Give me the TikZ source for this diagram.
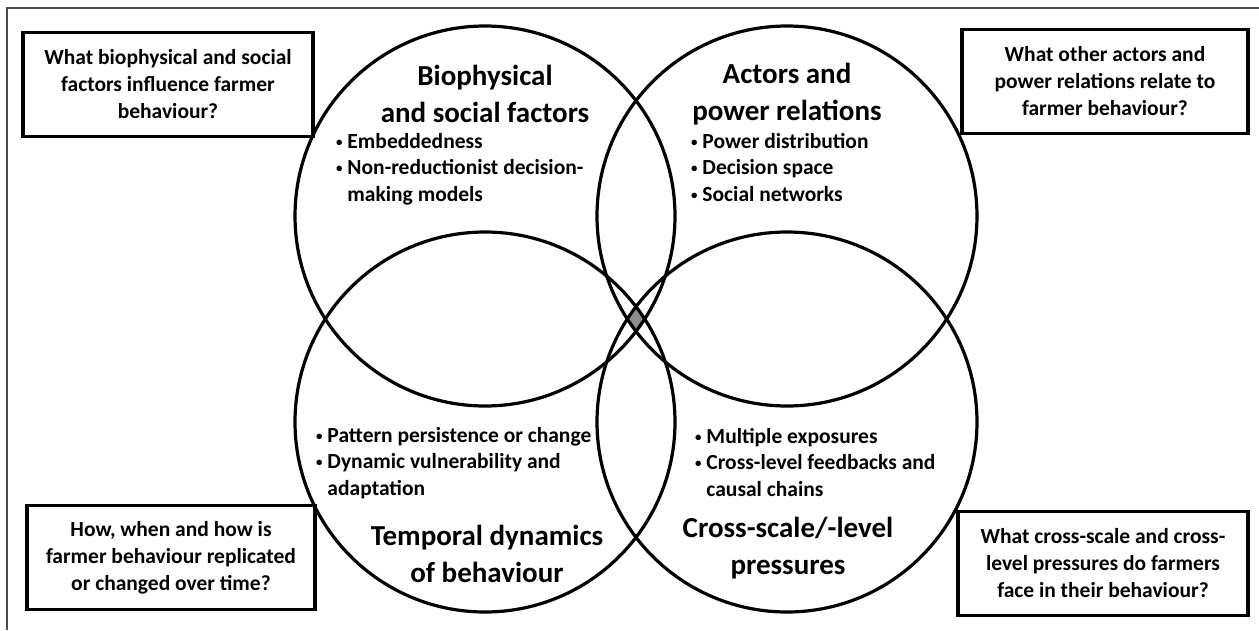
\documentclass[tikz,border=0pt]{standalone}
\usepackage{fontspec}
\setmainfont{Carlito}
\newcommand{\bul}{\raisebox{0.2ex}{\scalebox{0.6}{\textbullet}}\ }
\tikzset{
  ring/.style={line width=3.2pt},
  question/.style={draw, line width=3.4pt, minimum width=#1, minimum height=104pt, inner sep=0pt, align=center, font=\fontsize{21.5}{27}\selectfont\bfseries},
  heading/.style={align=center, inner sep=0pt, font=\fontsize{29}{37}\selectfont\bfseries},
  items/.style={align=left, anchor=north west, inner sep=0pt, font=\fontsize{21.5}{26.5}\selectfont\bfseries}
}
\begin{document}
\begin{tikzpicture}[x=1pt, y=-1pt]
  \useasboundingbox (0,0) rectangle (1259,630);
  % frame
  \draw[line width=1.2pt, black!70] (7,630) -- (7,8) -- (1259,8);
  % circle centres
  \coordinate (bio) at (485,216);
  \coordinate (act) at (787,216);
  \coordinate (tmp) at (485,422);
  \coordinate (crs) at (787,422);
  % shared core
  \begin{scope}
    \clip (bio) circle (190); \clip (act) circle (190); \clip (tmp) circle (190);
    \fill[black!45] (crs) circle (190);
  \end{scope}
  \foreach \c in {bio,act,tmp,crs} \draw[ring] (\c) circle (190);
  % headings and bullet lists
  \node[heading] (bioT) at (485,93.5) {Biophysical\\and social factors};
  \node[items] (bioL) at (336,133) {\bul Embeddedness\\\bul Non-reductionist decision-\\\hphantom{\bul}making models};
  \node[heading] (actT) at (787,94.5) {Actors and\\power relations};
  \node[items] (actL) at (691,133) {\bul Power distribution\\\bul Decision space\\\bul Social networks};
  \node[items] (tmpL) at (316,427) {\bul Pattern persistence or change\\\bul Dynamic vulnerability and\\\hphantom{\bul}adaptation};
  \node[heading] (tmpT) at (487,553.5) {Temporal dynamics\\of behaviour};
  \node[items] (crsL) at (695,428) {\bul Multiple exposures\\\bul Cross-level feedbacks and\\\hphantom{\bul}causal chains};
  \node[heading] (crsT) at (788,548.5) {Cross-scale/-level\\pressures};
  % questions in the corners
  \node[question=290pt] (bioQ) at (168,84.5) {What biophysical and social\\factors influence farmer\\behaviour?};
  \node[question=286pt] (actQ) at (1105,81.5) {What other actors and\\power relations relate to\\farmer behaviour?};
  \node[question=288pt] (tmpQ) at (171,557.5) {How, when and how is\\farmer behaviour replicated\\or changed over time?};
  \node[question=290pt] (crsQ) at (1103,563.5) {What cross-scale and cross-\\level pressures do farmers\\face in their behaviour?};
\end{tikzpicture}
\end{document}
